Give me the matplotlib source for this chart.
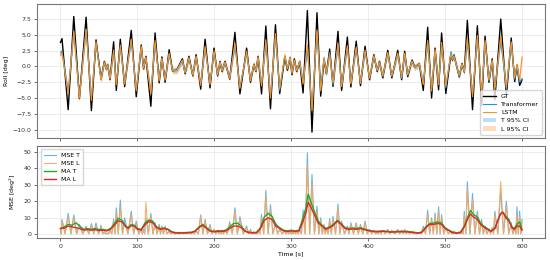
import numpy as np
import matplotlib
matplotlib.use("Agg")
import matplotlib.pyplot as plt

# --- roll angle: turning points of the ground truth and both predictions ---
t_roll = [0, 2, 10, 17.3, 24.6, 33.3, 40.2, 46.2, 52.7, 57,
          59.5, 61.3, 64.4, 69.1, 72.6, 77.8, 83.4, 92, 98.5, 105,
          108, 111, 117.5, 123, 128.3, 131.8, 136, 141.3, 145.6, 151,
          158.5, 162, 167, 172, 176.3, 182.3, 188, 194.4, 199.6, 204.3,
          207.4, 210, 213.8, 220, 226.8, 233.3, 242, 247, 251.4, 254,
          257, 261.4, 267, 273, 279.5, 285, 291.6, 295, 298.5, 301,
          304, 307, 311, 315.4, 321, 327, 333.5, 338.3, 342.6, 345.7,
          350, 354.3, 360.8, 365.5, 373, 377.5, 384.5, 390, 396, 401.8,
          407.4, 411.7, 414.7, 419, 425.5, 430.7, 438.5, 443.5, 447.5, 451.4,
          457, 460.5, 466.5, 471.7, 477.4, 482.5, 487, 491.6, 495.5, 501,
          507.6, 509.5, 511.5, 518.4, 522, 525, 529, 535.7, 542, 547.5,
          552, 557, 561.3, 564.7, 572.4, 579.7, 586, 590.5, 593.5, 597, 600]
gt = [3.8, 4.4, -6.85, 7.9, -5.1, 7.8, -7.0, 4.2, -2.0, 0.8,
      -0.4, 0.3, -2.1, 3.9, -3.8, 4.3, -3.2, 5.7, -4.8, 3.4,
      -0.4, 1.6, -6.3, 5.3, -2.6, 1.5, -2.5, 2.65, -0.7, -0.6,
      1.2, -1.15, 1.6, -1.5, 1.85, -3.6, 4.3, -3.4, 2.9, -1.5,
      0.8, -0.8, 0.8, -2.0, 5.4, -4.35, 2.9, -2.5, 0.35, -0.8,
      1.6, -4.35, 6.4, -6.7, 6.6, -4.3, 1.5, -0.6, 1.4, -1.3,
      1.2, -0.8, 0.8, -4.2, 8.85, -10.4, 8.5, -4.7, 1.05, -1.15,
      2.75, -3.15, 5.55, -3.8, 4.65, -3.25, 4.0, -3.05, 3.2, -2.1,
      1.85, -0.8, 0.8, -1.8, 2.55, -1.8, 2.55, -2.1, 2.4, -1.6,
      1.0, -0.1, 0.4, -3.8, 6.2, -5.0, 2.9, -3.7, 5.3, -4.3,
      2.0, 1.0, 1.8, -1.65, 0.45, -0.9, 7.3, -6.85, 6.45, -6.2,
      4.8, -2.5, 1.2, -5.3, 7.5, -4.7, 4.5, -2.4, 0.2, -3.0, -2.1]
pred_trans = [2.2, 2.4, -4.0, 5.4, -4.6, 5.8, -5.0, 3.6, -1.9, 0.6,
              -0.3, 0.3, -1.8, 2.2, -2.6, 3.0, -2.6, 4.0, -3.6, 2.9,
              -0.2, 1.3, -4.0, 3.6, -2.0, 1.2, -2.0, 1.8, -0.6, -0.6,
              0.9, -1.0, 1.3, -1.3, 1.5, -2.7, 2.8, -2.6, 2.2, -1.4,
              0.6, -0.7, 0.6, -1.8, 3.2, -3.2, 2.1, -2.1, 0.2, -0.7,
              1.3, -2.8, 3.6, -4.6, 4.7, -3.8, 1.6, -0.3, 1.3, -0.9,
              0.9, -0.6, 0.7, -2.5, 2.6, -6.5, 5.4, -3.6, 1.4, -1.2,
              2.2, -2.9, 3.3, -3.0, 3.0, -2.6, 2.8, -2.5, 2.3, -1.8,
              1.5, -0.7, 0.6, -1.6, 2.0, -1.6, 1.9, -1.9, 1.9, -1.4,
              0.9, -0.2, 0.3, -2.6, 3.6, -3.6, 2.4, -2.6, 3.3, -3.4,
              2.3, 1.2, 1.8, -1.6, 0.3, -0.9, 3.8, -4.4, 4.5, -4.3,
              3.8, -2.3, 0.8, -3.4, 4.0, -3.6, 3.6, -2.0, 0.1, -2.5, -2.0]
pred_lstm = [1.8, 2.2, -4.3, 5.6, -5.0, 5.9, -5.4, 3.9, -2.2, 0.7,
             -0.4, 0.2, -2.0, 2.6, -2.9, 3.4, -2.8, 4.3, -3.9, 3.2,
             -0.3, 1.5, -4.4, 4.1, -2.3, 1.3, -2.2, 2.1, -0.6, -0.7,
             1.0, -1.0, 1.4, -1.4, 1.6, -3.0, 3.2, -2.9, 2.5, -1.3,
             0.7, -0.7, 0.7, -1.9, 3.7, -3.5, 2.4, -2.3, 0.3, -0.7,
             1.5, -3.1, 4.2, -5.0, 5.2, -3.5, 1.8, -0.4, 1.5, -1.1,
             1.0, -0.7, 0.8, -2.8, 3.4, -7.0, 5.8, -3.9, 1.2, -1.0,
             1.9, -2.6, 3.7, -3.2, 3.3, -2.8, 3.1, -2.7, 2.6, -1.9,
             1.7, -0.6, 0.7, -1.5, 2.2, -1.5, 2.1, -1.7, 2.1, -1.3,
             0.8, -0.1, 0.4, -2.9, 4.1, -3.9, 2.7, -2.9, 3.8, -3.1,
             2.0, 1.1, 1.6, -1.4, 0.4, -0.8, 4.5, -4.8, 4.9, -4.7,
             4.1, -2.1, 1.0, -3.7, 4.8, -3.3, 3.9, -1.8, 0.3, -2.2, 1.5]
ci_half_trans = 0.45   # half width of the 95% bands, deg
ci_half_lstm = 0.55

# --- MSE: spike heights at the turning points, floor in between ---
mse_trans_peak = [3.5, 9.0, 12.7, 11.7, 6.0, 5.0, 6.5, 6.9, 5.5, 1.5,
                  0.8, 0.8, 2.5, 9.3, 16.1, 20.8, 10.0, 14.0, 8.0, 3.0,
                  3.0, 10.0, 12.7, 7.0, 6.0, 5.0, 5.0, 2.0, 1.0, 0.8,
                  1.2, 1.0, 1.5, 1.2, 2.0, 11.7, 9.0, 6.0, 3.0, 2.5,
                  2.0, 2.5, 2.5, 7.6, 16.1, 10.7, 5.0, 3.0, 1.5, 1.0,
                  2.0, 12.0, 26.6, 18.0, 7.0, 3.0, 2.0, 1.5, 2.0, 1.5,
                  2.0, 1.5, 3.0, 14.7, 49.5, 36.4, 17.0, 10.0, 6.0, 4.0,
                  9.5, 11.0, 18.4, 8.0, 5.0, 7.0, 7.0, 6.0, 8.0, 3.0,
                  2.5, 1.5, 2.0, 2.5, 3.0, 2.5, 3.0, 2.5, 3.0, 2.0,
                  1.5, 0.8, 1.0, 5.0, 14.7, 10.0, 13.0, 16.7, 12.0, 4.0,
                  2.0, 1.5, 2.0, 1.5, 2.0, 14.0, 31.9, 24.8, 14.0, 9.0,
                  5.0, 3.0, 4.0, 14.0, 27.0, 20.0, 7.0, 4.0, 16.7, 14.0, 9.0]
mse_lstm_peak = [3.0, 8.0, 10.5, 10.0, 5.0, 4.0, 5.5, 5.0, 4.5, 1.2,
                 0.6, 0.7, 2.0, 7.5, 13.5, 17.0, 7.0, 12.0, 6.5, 2.5,
                 2.5, 19.4, 11.0, 6.0, 5.0, 4.5, 4.0, 1.5, 0.8, 0.6,
                 1.0, 0.8, 1.2, 1.0, 1.8, 11.0, 8.0, 5.0, 2.5, 2.0,
                 1.8, 2.0, 2.0, 6.5, 14.0, 9.0, 4.0, 2.5, 1.2, 0.8,
                 1.8, 10.0, 23.0, 15.0, 6.0, 2.5, 1.5, 1.2, 1.5, 1.2,
                 1.5, 1.2, 2.5, 12.0, 42.0, 31.0, 14.0, 8.5, 5.0, 3.5,
                 8.0, 9.5, 16.0, 7.0, 4.0, 6.0, 6.5, 5.0, 7.0, 2.5,
                 2.0, 1.2, 1.5, 2.0, 2.5, 2.0, 2.5, 2.0, 2.5, 1.5,
                 1.2, 0.6, 0.8, 4.0, 12.5, 8.5, 11.0, 14.5, 10.0, 3.5,
                 1.8, 1.2, 1.8, 1.2, 1.8, 12.0, 28.0, 21.0, 12.0, 7.5,
                 4.5, 2.5, 3.5, 12.0, 32.0, 17.0, 6.0, 3.5, 12.0, 11.0, 7.0]
t_mse_low = [1, 6, 13.6, 21, 29, 36.8, 43.2, 49.5, 54.8, 58.2,
             60.4, 62.8, 66.8, 70.8, 75.2, 80.6, 87.7, 95.2, 101.8, 106.5,
             109.5, 114.2, 120.2, 125.6, 130, 133.9, 138.6, 143.4, 148.3, 154.8,
             160.2, 164.5, 169.5, 174.2, 179.3, 185.2, 191.2, 197, 202, 205.8,
             208.7, 211.9, 216.9, 223.4, 230, 237.6, 244.5, 249.2, 252.7, 255.5,
             259.2, 264.2, 270, 276.2, 282.2, 288.3, 293.3, 296.8, 299.8, 302.5,
             305.5, 309, 313.2, 318.2, 324, 330.2, 335.9, 340.4, 344.2, 347.8,
             352.2, 357.6, 363.2, 369.2, 375.2, 381, 387.2, 393, 398.9, 404.6,
             409.6, 413.2, 416.8, 422.2, 428.1, 434.6, 441, 445.5, 449.5, 454.2,
             458.8, 463.5, 469.1, 474.6, 480, 484.8, 489.3, 493.6, 498.2, 504.3,
             508.6, 510.5, 515, 520.2, 523.5, 527, 532.4, 538.8, 544.8, 549.8,
             554.5, 559.2, 563, 568.6, 576, 582.8, 588.2, 592, 595.2, 598.5]
mse_floor = 0.3

# --- moving averages of the MSE ---
t_ma = [0, 5, 10, 15, 20, 25, 30, 35, 40, 45,
        50, 55, 60, 65, 70, 75, 80, 85, 88, 92,
        96, 100, 105, 110, 115, 120, 125, 130, 135, 140,
        145, 150, 160, 170, 175, 180, 185, 190, 195, 200,
        205, 210, 215, 220, 225, 230, 235, 240, 245, 250,
        255, 260, 265, 270, 275, 280, 285, 290, 295, 300,
        305, 310, 315, 319, 322, 326, 330, 335, 340, 345,
        350, 355, 360, 365, 370, 375, 380, 385, 390, 395,
        400, 405, 410, 420, 430, 440, 450, 460, 465, 470,
        475, 480, 485, 490, 495, 500, 505, 510, 515, 520,
        525, 530, 533, 537, 542, 546, 550, 555, 560, 565,
        568, 572, 575, 579, 583, 587, 590, 594, 597, 600]
ma_trans = [3.5, 4.5, 6.0, 5.5, 7.0, 5.0, 3.0, 3.5, 3.0, 3.5,
            2.8, 3.0, 2.5, 3.5, 6.5, 9.7, 8.5, 5.0, 4.0, 6.0,
            5.5, 3.5, 3.0, 7.0, 8.7, 8.0, 4.5, 3.5, 3.8, 3.0,
            1.5, 1.0, 1.0, 1.2, 2.0, 4.5, 6.0, 4.0, 2.0, 1.8,
            2.2, 2.0, 2.5, 4.5, 6.5, 6.8, 5.0, 2.0, 1.2, 1.0,
            1.2, 4.0, 10.5, 12.8, 11.0, 6.0, 4.0, 2.5, 2.0, 2.5,
            2.0, 2.5, 9.5, 16.0, 24.5, 19.0, 14.0, 8.0, 5.5, 3.5,
            4.5, 6.0, 8.5, 6.5, 4.0, 3.5, 3.8, 3.5, 4.0, 3.2,
            2.5, 2.0, 1.8, 2.0, 1.5, 1.8, 1.8, 1.2, 0.8, 1.5,
            4.5, 6.5, 6.8, 7.5, 7.0, 4.0, 2.5, 1.2, 0.8, 1.2,
            5.0, 11.0, 14.5, 12.0, 10.5, 7.0, 5.0, 3.5, 2.0, 4.0,
            8.0, 12.0, 13.5, 11.0, 9.0, 4.5, 3.5, 6.5, 7.5, 3.0]
ma_lstm = [3.5, 3.8, 5.0, 4.5, 4.0, 3.5, 2.5, 2.8, 2.5, 2.8,
           2.3, 2.5, 2.0, 3.0, 5.5, 8.2, 7.5, 4.5, 3.5, 5.2,
           5.0, 3.0, 2.5, 6.0, 7.8, 7.0, 4.0, 3.0, 3.5, 2.8,
           1.3, 0.8, 0.8, 1.0, 1.8, 4.0, 5.5, 3.5, 1.8, 1.5,
           1.8, 1.8, 2.0, 3.5, 5.0, 5.0, 4.0, 1.8, 1.0, 0.8,
           1.0, 3.5, 8.5, 10.0, 9.0, 5.0, 3.5, 2.0, 1.8, 2.0,
           1.8, 2.0, 7.5, 13.0, 19.5, 16.0, 12.0, 7.0, 5.0, 3.0,
           4.0, 5.5, 8.0, 6.0, 3.5, 3.0, 3.2, 3.0, 3.5, 2.8,
           2.2, 1.8, 1.5, 1.8, 1.3, 1.5, 1.5, 1.0, 0.7, 1.2,
           4.0, 6.0, 6.0, 6.5, 6.2, 3.5, 2.2, 1.0, 0.7, 1.0,
           4.5, 10.0, 12.3, 10.5, 9.0, 6.0, 4.5, 3.0, 1.8, 3.5,
           7.5, 12.5, 13.5, 10.0, 8.0, 4.0, 3.0, 5.0, 5.0, 2.5]

C_TRANS = "#2196d6"
C_LSTM = "#f7922a"

plt.rcParams["font.family"] = "DejaVu Sans"
plt.rcParams["font.size"] = 4.5

fig = plt.figure(figsize=(5.5, 2.6), dpi=100)
ax1 = fig.add_axes([0.068, 0.470, 0.923, 0.515])
ax2 = fig.add_axes([0.068, 0.085, 0.923, 0.353], sharex=ax1)

t = np.array(t_roll)
pt = np.array(pred_trans)
pl = np.array(pred_lstm)
ax1.plot(t, gt, color="black", lw=1.0, label="GT", zorder=3)
ax1.plot(t, pt, color=C_TRANS, lw=0.8, label="Transformer", zorder=4)
ax1.plot(t, pl, color=C_LSTM, lw=0.8, label="LSTM", zorder=5)
ax1.fill_between(t, pt - ci_half_trans, pt + ci_half_trans, color=C_TRANS,
                 alpha=0.3, lw=0, label="T 95% CI", zorder=2)
ax1.fill_between(t, pl - ci_half_lstm, pl + ci_half_lstm, color=C_LSTM,
                 alpha=0.3, lw=0, label="L 95% CI", zorder=2)
ax1.set_ylim(-11.3, 9.9)
ax1.set_yticks(np.arange(-10, 7.6, 2.5))
ax1.set_ylabel("Roll [deg]", labelpad=2)
ax1.legend(loc="lower right", fontsize=4.5, framealpha=0.8, borderpad=0.5,
           labelspacing=0.45, handlelength=2.0)
plt.setp(ax1.get_xticklabels(), visible=False)

# merge spike points and floor points into one time-ordered series
t_all = np.concatenate([t_roll, t_mse_low])
order = np.argsort(t_all)
mse_t_all = np.concatenate([mse_trans_peak, np.full(len(t_mse_low), mse_floor)])[order]
mse_l_all = np.concatenate([mse_lstm_peak, np.full(len(t_mse_low), mse_floor)])[order]
t_all = t_all[order]

ax2.plot(t_all, mse_t_all, color="#4fb0e3", lw=0.8, alpha=0.9, label="MSE T")
ax2.plot(t_all, mse_l_all, color="#f9a85c", lw=0.8, alpha=0.9, label="MSE L")
ax2.plot(t_ma, ma_trans, color="#1faa2a", lw=1.0, label="MA T")
ax2.plot(t_ma, ma_lstm, color="#e8231e", lw=1.0, label="MA L")
ax2.set_ylim(-2.2, 53.6)
ax2.set_yticks(np.arange(0, 51, 10))
ax2.set_xlim(-30, 630)
ax2.set_xticks(np.arange(0, 601, 100))
ax2.set_xlabel("Time [s]", labelpad=1.5)
ax2.set_ylabel("MSE [deg$^2$]", labelpad=4)
ax2.legend(loc="upper left", fontsize=4.5, framealpha=0.8, borderpad=0.5,
           labelspacing=0.45, handlelength=2.0)

for ax in (ax1, ax2):
    ax.grid(True, color="#e6e6e6", lw=0.5)
    ax.set_axisbelow(True)
    ax.tick_params(length=2.5, width=0.5, pad=2, colors="#333333")
    for s in ax.spines.values():
        s.set_color("#777777")
        s.set_linewidth(0.8)

fig.savefig("out.png", dpi=100)
